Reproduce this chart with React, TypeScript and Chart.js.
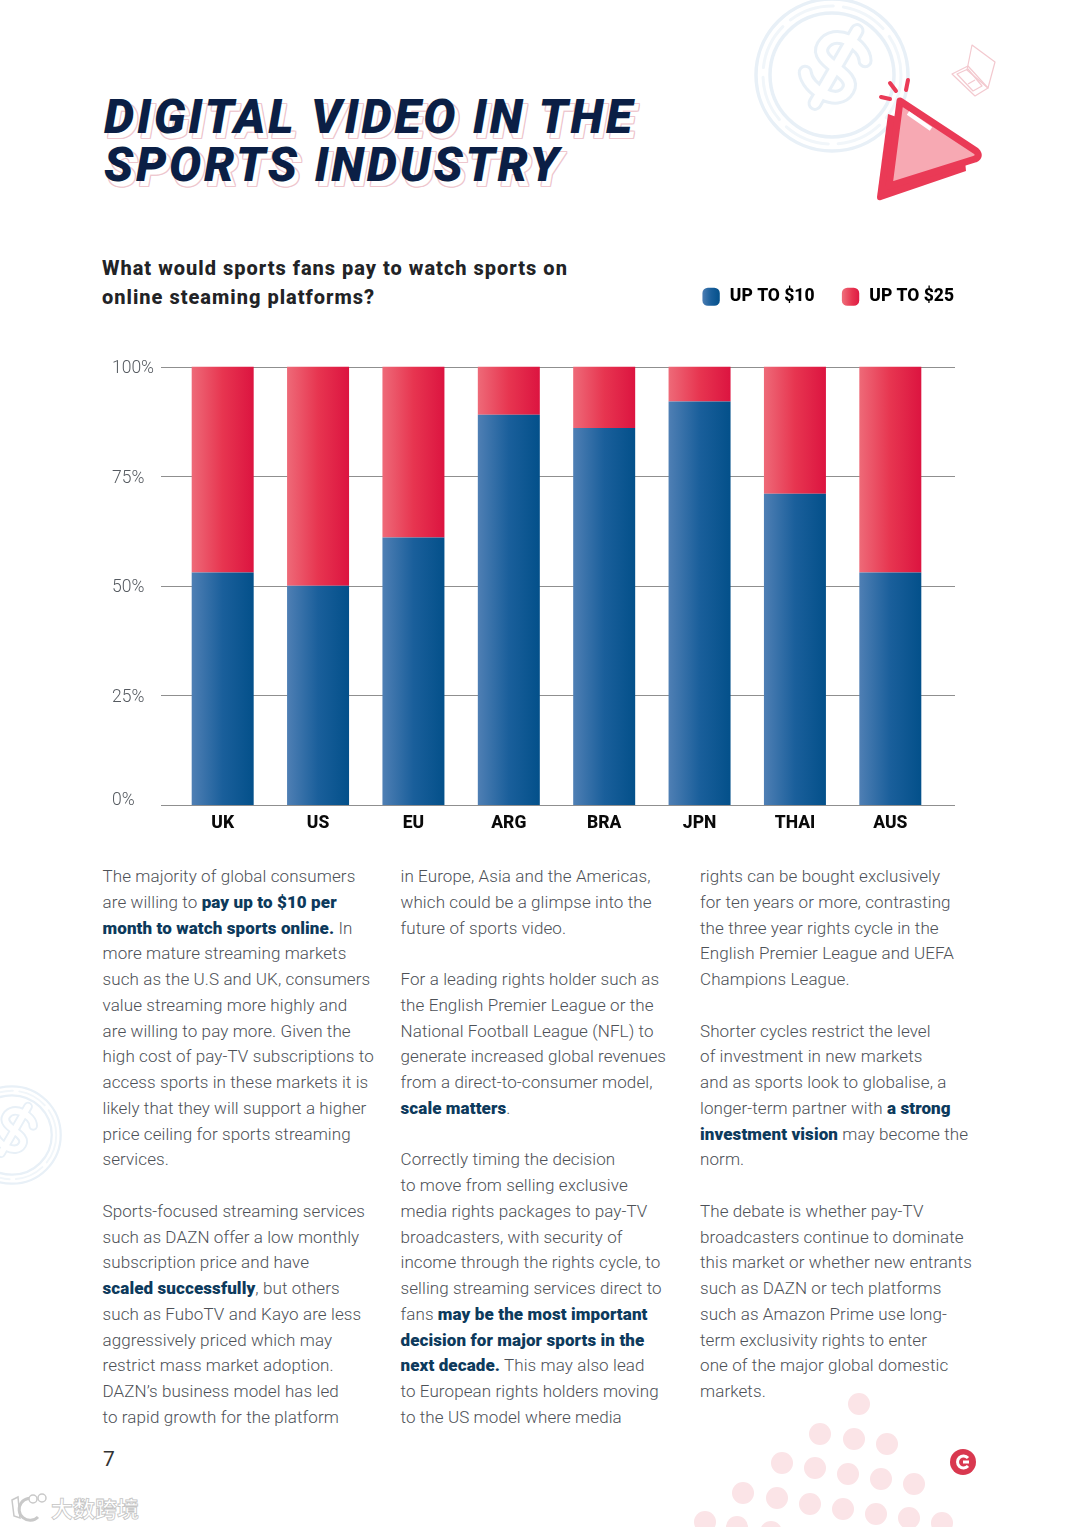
import React, { useEffect, useRef } from "react";
import { Chart, registerables } from "chart.js";

Chart.register(...registerables);

const categories = ["UK", "US", "EU", "ARG", "BRA", "JPN", "THAI", "AUS"];
const upTo10 = [53, 50, 61, 89, 86, 92, 71, 53];
const upTo25 = [47, 50, 39, 11, 14, 8, 29, 47];
const yTicks = [0, 25, 50, 75, 100];
const seriesNames = ["UP TO $10", "UP TO $25"];

const col1 = [
  "The majority of global consumers",
  "are willing to *pay up to $10 per*",
  "*month to watch sports online.* In",
  "more mature streaming markets",
  "such as the U.S and UK, consumers",
  "value streaming more highly and",
  "are willing to pay more. Given the",
  "high cost of pay-TV subscriptions to",
  "access sports in these markets it is",
  "likely that they will support a higher",
  "price ceiling for sports streaming",
  "services.",
  "",
  "Sports-focused streaming services",
  "such as DAZN offer a low monthly",
  "subscription price and have",
  "*scaled successfully*, but others",
  "such as FuboTV and Kayo are less",
  "aggressively priced which may",
  "restrict mass market adoption.",
  "DAZN’s business model has led",
  "to rapid growth for the platform",
];
const col2 = [
  "in Europe, Asia and the Americas,",
  "which could be a glimpse into the",
  "future of sports video.",
  "",
  "For a leading rights holder such as",
  "the English Premier League or the",
  "National Football League (NFL) to",
  "generate increased global revenues",
  "from a direct-to-consumer model,",
  "*scale matters*.",
  "",
  "Correctly timing the decision",
  "to move from selling exclusive",
  "media rights packages to pay-TV",
  "broadcasters, with security of",
  "income through the rights cycle, to",
  "selling streaming services direct to",
  "fans *may be the most important*",
  "*decision for major sports in the*",
  "*next decade.* This may also lead",
  "to European rights holders moving",
  "to the US model where media",
];
const col3 = [
  "rights can be bought exclusively",
  "for ten years or more, contrasting",
  "the three year rights cycle in the",
  "English Premier League and UEFA",
  "Champions League.",
  "",
  "Shorter cycles restrict the level",
  "of investment in new markets",
  "and as sports look to globalise, a",
  "longer-term partner with *a strong*",
  "*investment vision* may become the",
  "norm.",
  "",
  "The debate is whether pay-TV",
  "broadcasters continue to dominate",
  "this market or whether new entrants",
  "such as DAZN or tech platforms",
  "such as Amazon Prime use long-",
  "term exclusivity rights to enter",
  "one of the major global domestic",
  "markets.",
];

const dots = [
  [859, 1404], [820, 1434], [854, 1439], [887, 1444],
  [782, 1463], [815, 1468], [848, 1474], [881, 1479], [914, 1484],
  [743, 1493], [777, 1498], [810, 1504], [843, 1509], [876, 1514], [909, 1518], [942, 1523],
  [705, 1522], [737, 1527], [771, 1532],
];

const FONT = "Roboto, sans-serif";

function grad(ctx: CanvasRenderingContext2D, x0: number, x1: number, stops: string[]) {
  const g = ctx.createLinearGradient(x0, 0, x1, 0);
  stops.forEach((s, i) => g.addColorStop(i / (stops.length - 1), s));
  return g;
}
const BLUE = ["#4f7fb4", "#1a5f9b", "#03508a"];
const RED = ["#ee6a78", "#e73550", "#dc1440"];

function barFill(stops: string[]) {
  return (c: any) => {
    const x = c.chart.scales.x;
    if (!x) return stops[1];
    const px = x.getPixelForValue(c.dataIndex);
    return grad(c.chart.ctx, px - 31, px + 31, stops);
  };
}

const gridPlugin = {
  id: "wideGrid",
  beforeDatasetsDraw(chart: any) {
    const { ctx, chartArea, scales } = chart;
    ctx.save();
    ctx.strokeStyle = "#8f8f8f";
    ctx.lineWidth = 1;
    scales.y.ticks.forEach((t: any) => {
      const y = Math.round(scales.y.getPixelForValue(t.value)) + 0.5;
      ctx.beginPath();
      ctx.moveTo(chartArea.left - 14, y);
      ctx.lineTo(chartArea.right + 17, y);
      ctx.stroke();
    });
    ctx.restore();
  },
};

function BarChart() {
  const ref = useRef<HTMLCanvasElement>(null);
  useEffect(() => {
    const chart = new Chart(ref.current!, {
      type: "bar",
      data: {
        labels: categories,
        datasets: [
          { label: seriesNames[0], data: upTo10, backgroundColor: barFill(BLUE) as any, stack: "s" },
          { label: seriesNames[1], data: upTo25, backgroundColor: barFill(RED) as any, stack: "s" },
        ],
      },
      plugins: [gridPlugin],
      options: {
        animation: false,
        responsive: false,
        layout: { padding: { left: 12, top: 0, right: 0, bottom: 0 } },
        datasets: { bar: { barPercentage: 0.65, categoryPercentage: 1 } },
        plugins: {
          title: { display: false },
          tooltip: { enabled: false },
          legend: {
            display: true,
            position: "top",
            align: "end",
            labels: {
              usePointStyle: true,
              pointStyleWidth: 20,
              boxHeight: 15,
              padding: 26,
              color: "#0a0a0a",
              font: { family: FONT, size: 17.5, weight: "800" as any },
              generateLabels(c: any) {
                const ctx = c.ctx;
                return [
                  { text: seriesNames[0], fillStyle: grad(ctx, 602, 620, BLUE), strokeStyle: "transparent", lineWidth: 0, pointStyle: "rectRounded", datasetIndex: 0 },
                  { text: seriesNames[1], fillStyle: grad(ctx, 743, 761, RED), strokeStyle: "transparent", lineWidth: 0, pointStyle: "rectRounded", datasetIndex: 1 },
                ] as any;
              },
            },
          },
        },
        scales: {
          x: {
            stacked: true,
            grid: { display: false },
            border: { display: false },
            ticks: {
              color: "#0a0a0a",
              padding: 0,
              maxRotation: 0,
              font: { family: FONT, size: 17.5, weight: "800" as any },
            },
          },
          y: {
            stacked: true,
            min: 0,
            max: 100,
            afterBuildTicks(s: any) {
              s.ticks = yTicks.map((value) => ({ value }));
            },
            afterFit(s: any) {
              s.width = 63;
            },
            grid: { display: false },
            border: { display: false },
            ticks: {
              crossAlign: "far",
              color: "#555a60",
              labelOffset: 2,
              font: { family: FONT, size: 17.5, weight: "300" as any, lineHeight: "12px" as any },
              callback: (v: any) => (v === 0 ? ["0%", ""] : `${v}%`),
            },
          },
          padRight: {
            axis: "y",
            position: "right",
            display: true,
            afterFit(s: any) {
              s.width = 42;
            },
            grid: { display: false },
            border: { display: false },
            ticks: { display: false },
          },
          padTop: {
            axis: "x",
            type: "category",
            position: "top",
            display: true,
            afterFit(s: any) {
              s.height = 51;
            },
            grid: { display: false },
            border: { display: false },
            ticks: { display: false },
          },
        },
      } as any,
    });
    return () => chart.destroy();
  }, []);
  return (
    <canvas
      ref={ref}
      width={880}
      height={572}
      style={{ position: "absolute", left: 100, top: 262, width: 880, height: 572 }}
    />
  );
}

function Column({ x, lines }: { x: number; lines: string[] }) {
  return (
    <div style={{ position: "absolute", left: x, top: 864, fontFamily: FONT, fontSize: 17, fontWeight: 300, lineHeight: "25.75px", color: "#4d5157", whiteSpace: "nowrap", letterSpacing: "0.1px" }}>
      {lines.map((l, i) => (
        <div key={i} style={{ height: 25.75 }}>
          {l.split("*").map((seg, j) =>
            j % 2 ? (
              <b key={j} style={{ color: "#0d3a5c", fontWeight: 900 }}>{seg}</b>
            ) : (
              <span key={j}>{seg}</span>
            )
          )}
        </div>
      ))}
    </div>
  );
}

function Coin({ cx, cy, r }: { cx: number; cy: number; r: number }) {
  const k = r / 78;
  const s = "M22 -20 C14 -34 -22 -34 -22 -12 C-22 8 22 -6 22 14 C22 34 -14 34 -24 20";
  return (
    <g transform={`translate(${cx} ${cy}) scale(${k})`} fill="none" strokeLinecap="round">
      <circle r={76} strokeWidth={3.5} stroke="#e8f0f7" />
      <circle r={62} strokeWidth={3.5} stroke="#e8f0f7" />
      <circle r={69} strokeWidth={3} strokeDasharray="46 10" stroke="#f1f6fa" />
      <g transform="translate(4 -8) rotate(30)">
        <path d={s} strokeWidth={15} stroke="#e8f0f7" />
        <path d="M0 -42 L0 42" strokeWidth={15} stroke="#e8f0f7" />
        <path d={s} strokeWidth={9} stroke="#fff" />
        <path d="M0 -42 L0 42" strokeWidth={9} stroke="#fff" />
      </g>
    </g>
  );
}

function Decor() {
  return (
    <svg width={1080} height={1527} style={{ position: "absolute", left: 0, top: 0 }}>
      <Coin cx={832} cy={75} r={78} />
      <Coin cx={12} cy={1135} r={50} />
      <g fill="none" stroke="#f3c9cf" strokeWidth={1.2} strokeLinejoin="round">
        <path d="M972 45 L995 62 L988 88 L967 70 Z" />
        <path d="M952 74 L968 66 L988 88 L975 96 Z" />
        <path d="M957 74 L968 69 L982 86 L973 91 Z" />
        <path d="M968 84 L975 80" />
      </g>
      <path d="M888 114 L877 197 Q877 201 881 200 L966 171 L963 140 Z" fill="#ea3a56" />
      <path d="M900 101 L976 151 Q981 156 975 159 L889 186 Z" fill="#f7a9b3" stroke="#ea3a56" strokeWidth={7} strokeLinejoin="round" />
      <path d="M908 113 L931 129" stroke="#fff" strokeWidth={4} />
      <g stroke="#ea3a56" strokeWidth={4} strokeLinecap="round">
        <path d="M890 83 L896 91" />
        <path d="M908 80 L906 90" />
        <path d="M881 97 L890 99" />
      </g>
      {dots.map(([x, y], i) => (
        <circle key={i} cx={x} cy={y} r={11} fill="#fbe4e7" />
      ))}
      <circle cx={963} cy={1462} r={13} fill="#d9384f" />
      <path d="M968 1458 A6 6 0 1 0 968 1466 M963 1462 L969 1462" fill="none" stroke="#fff" strokeWidth={3} />
      <g fill="#fff" stroke="#c9c9c9" strokeWidth={1.5}>
        <path d="M12 1500 L18 1497 L20 1518 L14 1516 Z" />
        <path d="M36 1500 A11 11 0 1 0 38 1517" fill="none" strokeWidth={3} />
        <circle cx={33} cy={1499} r={4} />
        <circle cx={42} cy={1498} r={4} />
      </g>
    </svg>
  );
}

const titleShadow = [
  "4px 5px 0 #fff",
  "5px 5px 0 #eec6cd", "3px 5px 0 #eec6cd", "4px 6px 0 #eec6cd", "4px 4px 0 #eec6cd",
  "5px 6px 0 #eec6cd", "3px 4px 0 #eec6cd", "5px 4px 0 #eec6cd", "3px 6px 0 #eec6cd",
].join(",");

export default function App() {
  return (
    <div style={{ position: "absolute", left: 0, top: 0, width: 1080, height: 1527, overflow: "hidden", background: "#fff" }}>
      <Decor />
      <div style={{ position: "absolute", left: 104, top: 93, fontFamily: FONT, fontSize: 48, fontWeight: 900, fontStyle: "italic", lineHeight: "47.5px", color: "#0b1f45", letterSpacing: "2.8px", whiteSpace: "nowrap", textShadow: titleShadow }}>
        <div>DIGITAL VIDEO IN THE</div>
        <div>SPORTS INDUSTRY</div>
      </div>
      <div style={{ position: "absolute", left: 102, top: 254, fontFamily: FONT, fontSize: 20, fontWeight: 800, lineHeight: "29px", color: "#222326", letterSpacing: "1px", whiteSpace: "nowrap" }}>
        <div>What would sports fans pay to watch sports on</div>
        <div>online steaming platforms?</div>
      </div>
      <BarChart />
      <Column x={102.5} lines={col1} />
      <Column x={400.5} lines={col2} />
      <Column x={700} lines={col3} />
      <div style={{ position: "absolute", left: 103, top: 1447, fontFamily: FONT, fontSize: 21, color: "#333", lineHeight: "24px" }}>7</div>
      <div style={{ position: "absolute", left: 51, top: 1494, fontFamily: "'Noto Sans CJK SC'", fontSize: 22, fontWeight: 700, color: "#fff", lineHeight: "26px", WebkitTextStroke: "0.8px #c4c4c4", whiteSpace: "nowrap" }}>大数跨境</div>
    </div>
  );
}
